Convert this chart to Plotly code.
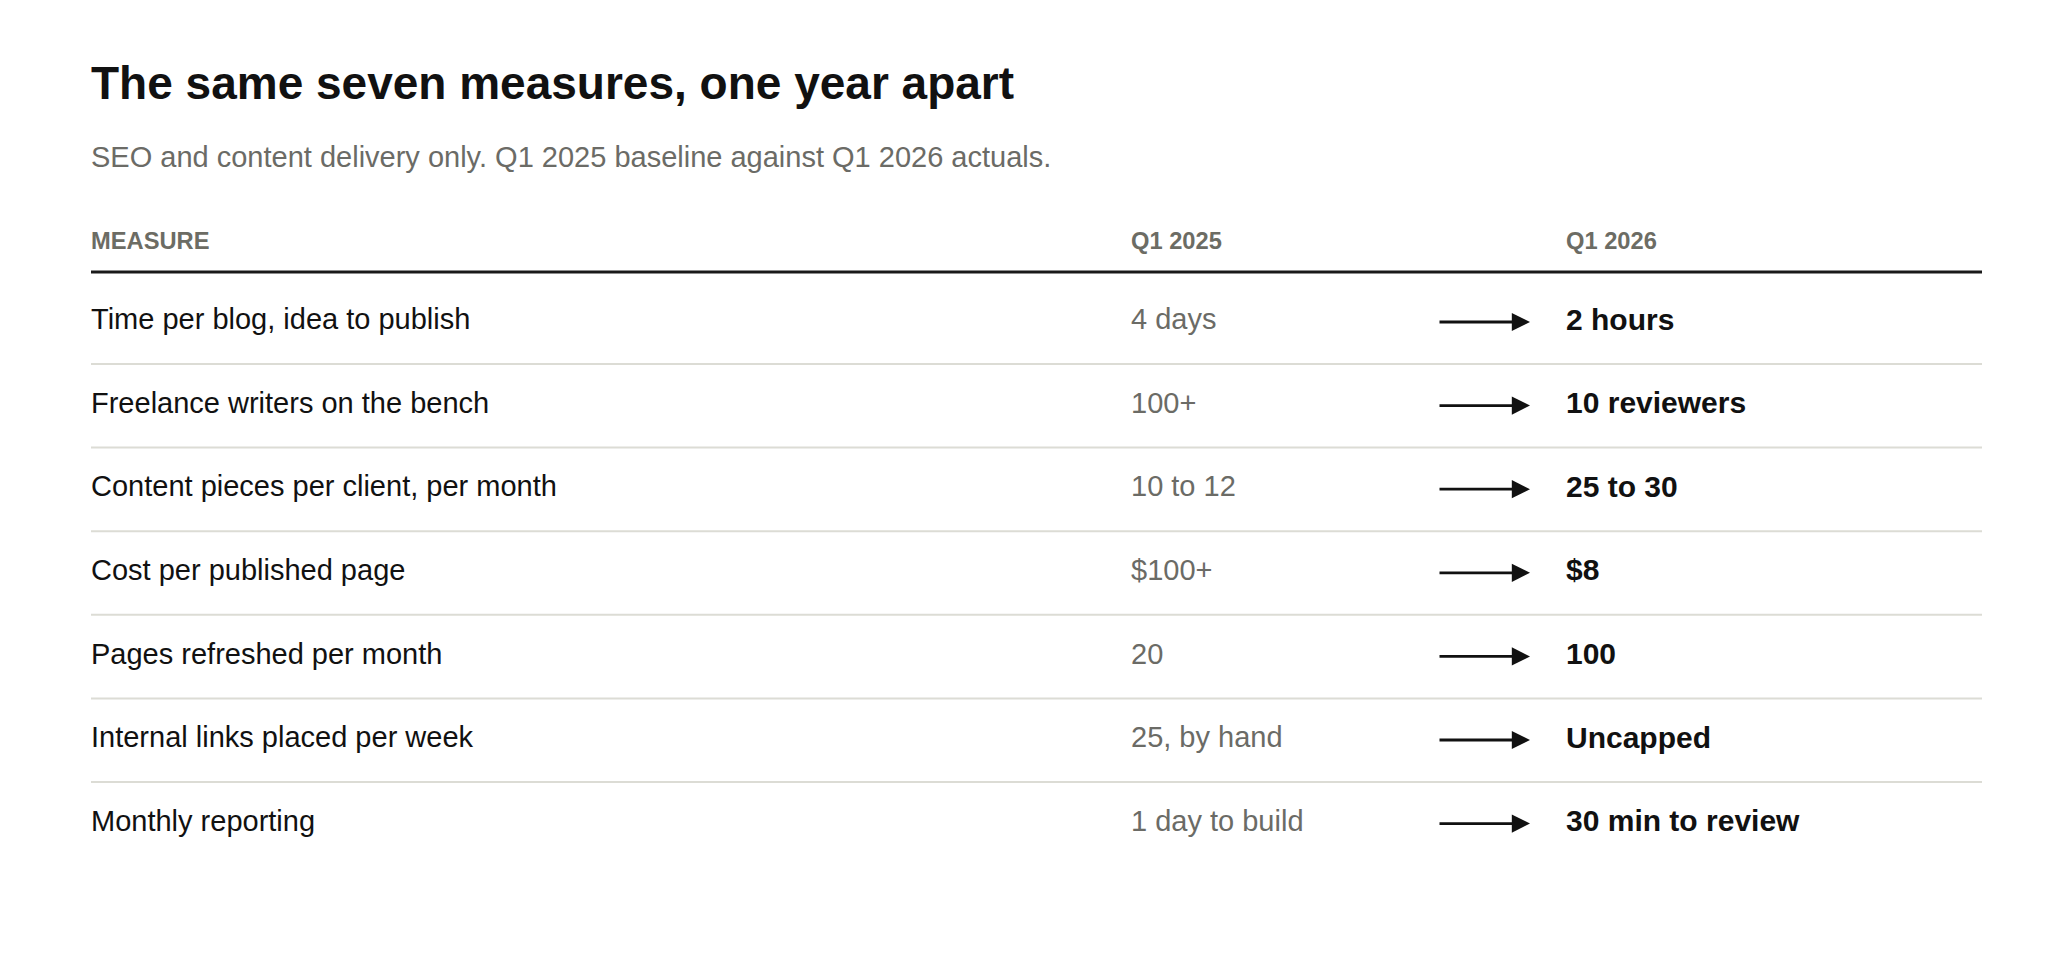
import plotly.graph_objects as go

# ---------------- data ----------------
title_text = "The same seven measures, one year apart"
subtitle_text = "SEO and content delivery only. Q1 2025 baseline against Q1 2026 actuals."
headers = ["MEASURE", "Q1 2025", "Q1 2026"]
measures = [
    "Time per blog, idea to publish",
    "Freelance writers on the bench",
    "Content pieces per client, per month",
    "Cost per published page",
    "Pages refreshed per month",
    "Internal links placed per week",
    "Monthly reporting",
]
q1_2025 = ["4 days", "100+", "10 to 12", "$100+", "20", "25, by hand", "1 day to build"]
q1_2026 = ["2 hours", "10 reviewers", "25 to 30", "$8", "100", "Uncapped", "30 min to review"]

# ---------------- layout constants (window pixels) ----------------
WIN_W, WIN_H = 2046, 959
BODY = 8                                # default page margin around the figure
W, H = WIN_W - 2 * BODY, WIN_H - 2 * BODY
FONT = "Liberation Sans, Arial, Helvetica, sans-serif"
ROW0_PX, ROW_PX = 322.0, 83.6          # pixel centre of first row, row pitch
def row_units(px):                     # window pixel y -> row-unit y
    return (px - ROW0_PX) / ROW_PX

X_LEFT, X_RIGHT = 91, 1982
X_COL2, X_COL3 = 1131, 1566
X_ARROW0, X_ARROW1 = 1438, 1530
ANN_PAD = 1                             # annotation inner offset

INK = "#111111"
GREY = "#6b6b66"
HEAD_GREY = "#6c6c64"
RULE = "#1a1a1a"
SEP = "#dcdcd5"

rows = list(range(len(measures)))

fig = go.Figure()

# table cells as text traces placed on the row axis
fig.add_trace(go.Scatter(
    x=[X_LEFT] * len(measures), y=rows, text=measures, mode="text",
    textposition="middle right", textfont=dict(family=FONT, size=29, color=INK),
    hoverinfo="skip", showlegend=False))
fig.add_trace(go.Scatter(
    x=[X_COL2] * len(q1_2025), y=rows, text=q1_2025, mode="text",
    textposition="middle right", textfont=dict(family=FONT, size=29, color=GREY),
    hoverinfo="skip", showlegend=False))
fig.add_trace(go.Scatter(
    x=[X_COL3] * len(q1_2026), y=rows, text=q1_2026, mode="text",
    textposition="middle right",
    textfont=dict(family=FONT, size=30, color=INK, weight=700),
    hoverinfo="skip", showlegend=False))

annotations = []
# title and subtitle
annotations.append(dict(x=X_LEFT - ANN_PAD, y=row_units(82.5), xref="x", yref="y",
                        text=title_text, showarrow=False, xanchor="left", yanchor="middle",
                        borderpad=0,
                        font=dict(family=FONT, size=46, color=INK, weight=700)))
annotations.append(dict(x=X_LEFT - ANN_PAD, y=row_units(157), xref="x", yref="y",
                        text=subtitle_text, showarrow=False, xanchor="left",
                        yanchor="middle", borderpad=0,
                        font=dict(family=FONT, size=29, color=GREY)))
# column headers
for hx, htxt in zip([X_LEFT, X_COL2, X_COL3], headers):
    annotations.append(dict(x=hx - ANN_PAD, y=row_units(240.5), xref="x", yref="y",
                            text=htxt, showarrow=False, xanchor="left", yanchor="middle",
                            borderpad=0,
                            font=dict(family=FONT, size=23.7, color=HEAD_GREY, weight=700)))
# arrows, one per row
for r in rows:
    annotations.append(dict(x=X_ARROW1, y=r, ax=X_ARROW0, ay=r,
                            xref="x", yref="y", axref="x", ayref="y", text="",
                            showarrow=True, arrowhead=2, arrowsize=1.3, arrowwidth=2.8,
                            arrowcolor=INK, standoff=0, startstandoff=0))

shapes = []
# heavy header rule
shapes.append(dict(type="line", xref="x", yref="y", x0=X_LEFT, x1=X_RIGHT,
                   y0=row_units(272), y1=row_units(272), line=dict(color=RULE, width=3)))
# row separators
for r in rows[:-1]:
    yy = r + row_units(364)
    shapes.append(dict(type="line", xref="x", yref="y", x0=X_LEFT, x1=X_RIGHT,
                       y0=yy, y1=yy, line=dict(color=SEP, width=2)))

fig.update_layout(
    width=W, height=H,
    margin=dict(l=0, r=0, t=0, b=0),
    paper_bgcolor="white", plot_bgcolor="white",
    xaxis=dict(range=[BODY, BODY + W], visible=False, fixedrange=True),
    yaxis=dict(range=[row_units(BODY + H), row_units(BODY)], visible=False,
               fixedrange=True),
    annotations=annotations, shapes=shapes,
    showlegend=False, hovermode=False,
)

fig.write_html("out.html", config={"displayModeBar": False})
